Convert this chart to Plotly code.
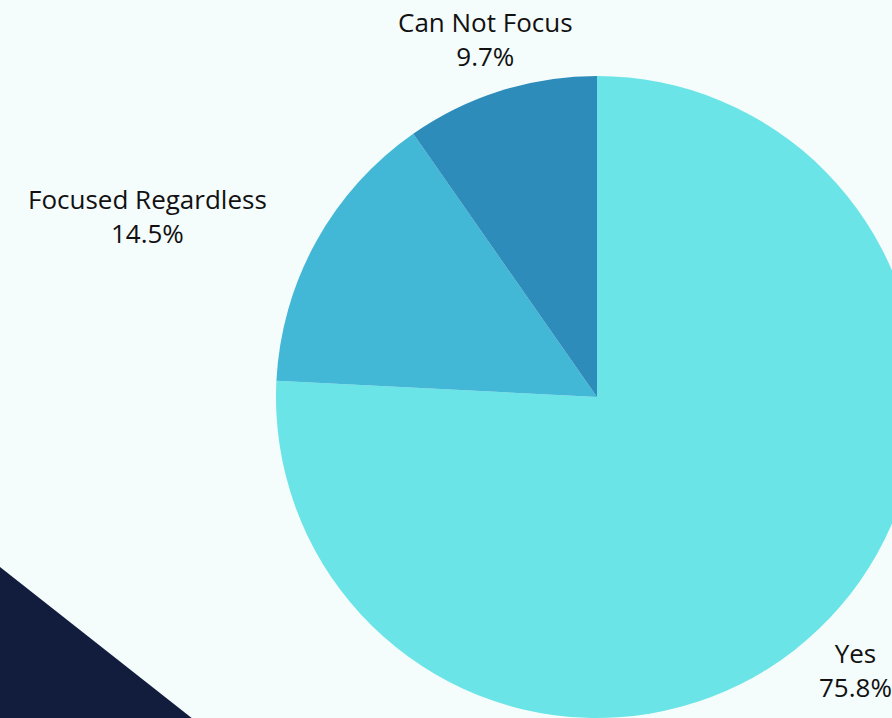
import plotly.graph_objects as go

labels = ["Yes", "Focused Regardless", "Can Not Focus"]
values = [75.8, 14.5, 9.7]
colors = ["#6ae4e7", "#42b7d6", "#2e8cba"]

W, H = 960, 760
BG = "#f5fcfc"

# pie centre (597,397) px, radius 321 px
cx, cy, r = 597, 397, 321
dom_x = [(cx - r) / W, (cx + r) / W]
dom_y = [1 - (cy + r) / H, 1 - (cy - r) / H]

fig = go.Figure()
fig.add_trace(go.Pie(
    labels=labels,
    values=values,
    sort=False,
    direction="clockwise",
    rotation=0,
    marker=dict(colors=colors, line=dict(width=0)),
    textinfo="none",
    domain=dict(x=dom_x, y=dom_y),
    showlegend=False,
    hoverinfo="label+percent",
))

# label centres in pixels (layout only)
label_pos = {"Yes": (855, 670), "Focused Regardless": (147, 216), "Can Not Focus": (485, 39)}

total = sum(values)
annotations = []
for lab, val in zip(labels, values):
    x, y = label_pos[lab]
    annotations.append(dict(
        x=x / W, y=1 - y / H, xref="paper", yref="paper",
        text=f"{lab}<br>{100 * val / total:.1f}%",
        showarrow=False, xanchor="center", yanchor="middle", align="center",
        font=dict(family="Open Sans", size=26, color="#111111"),
    ))

def px(x, y):
    return f"{x / W:.5f},{1 - y / H:.5f}"

fig.update_layout(
    width=W, height=H,
    margin=dict(l=0, r=0, t=0, b=0),
    paper_bgcolor=BG,
    plot_bgcolor=BG,
    annotations=annotations,
    shapes=[dict(
        type="path", xref="paper", yref="paper", layer="below",
        path=f"M {px(0, 567)} L {px(245, 760)} L {px(0, 760)} Z",
        fillcolor="#121c3d", line=dict(width=0),
    )],
)

fig.write_html(
    "out.html",
    post_script="document.body.style.margin='0';document.body.style.overflow='hidden';document.documentElement.style.overflow='hidden';",
)
